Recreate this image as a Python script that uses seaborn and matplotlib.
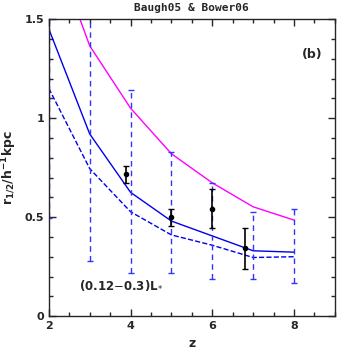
import numpy as np
import pandas as pd
import matplotlib
matplotlib.use("Agg")
import matplotlib.pyplot as plt
from matplotlib.ticker import MultipleLocator
import seaborn as sns

# === 資料 ===
z = [2, 3, 4, 5, 6, 7, 8]
r_solid = [1.45, 0.92, 0.625, 0.48, 0.405, 0.33, 0.323]
r_dashed = [1.15, 0.745, 0.527, 0.41, 0.358, 0.296, 0.30]
r_magenta = [1.93, 1.365, 1.05, 0.82, 0.673, 0.552, 0.485]
err_lo = [0.495, 0.278, 0.216, 0.217, 0.187, 0.187, 0.168]
err_hi = [2.0, 1.7, 1.14, 0.83, 0.673, 0.527, 0.54]

obs_z = [3.9, 5.0, 6.0, 6.8]
obs_r = [0.716, 0.50, 0.54, 0.345]
obs_lo = [0.67, 0.456, 0.446, 0.24]
obs_hi = [0.759, 0.54, 0.64, 0.446]

df = pd.DataFrame({"z": z, "solid": r_solid, "dashed": r_dashed, "magenta": r_magenta})

sns.set_style("ticks")
plt.rcParams["font.family"] = ["DejaVu Sans"]

fig = plt.figure(figsize=(3.54, 3.54), dpi=100)
ax = fig.add_axes([0.138, 0.107, 0.808, 0.839])

# === 線 ===
sns.lineplot(data=df, x="z", y="magenta", color="#ff00ff", lw=1.0, ax=ax)
sns.lineplot(data=df, x="z", y="solid", color="#0000ee", lw=1.0, ax=ax)
sns.lineplot(data=df, x="z", y="dashed", color="#0000ee", lw=1.0, ls="--", ax=ax)

# === 模型誤差 (虛線) ===
mid = np.array(r_solid)
eb = ax.errorbar(z, mid, yerr=[mid - np.array(err_lo), np.array(err_hi) - mid],
                 fmt="none", ecolor="#3333ff", elinewidth=1.0, capsize=2, capthick=1.0)
eb[2][0].set_linestyle((0, (4, 3)))

# === 觀測點 ===
o = np.array(obs_r)
ax.errorbar(obs_z, o, yerr=[o - np.array(obs_lo), np.array(obs_hi) - o],
            fmt="o", color="black", ms=3, elinewidth=1.2, capsize=2.5, capthick=1.0)

ax.set_xlim(2, 9)
ax.set_ylim(0, 1.5)
ax.set_xticks([2, 4, 6, 8])
ax.set_xticklabels(["2", "4", "6", "8"])
ax.set_yticks([0, 0.5, 1, 1.5])
ax.set_yticklabels(["0", "0.5", "1", "1.5"])
ax.xaxis.set_minor_locator(MultipleLocator(0.5))
ax.yaxis.set_minor_locator(MultipleLocator(0.1))
ax.tick_params(which="both", direction="in", top=True, right=True, labelsize=8)
ax.tick_params(which="major", length=5, width=1)
ax.tick_params(which="minor", length=3, width=1)
for lab in ax.get_xticklabels() + ax.get_yticklabels():
    lab.set_fontweight("bold")
for s in ax.spines.values():
    s.set_linewidth(1.0)

ax.set_xlabel("z", fontsize=9, fontweight="bold")
ax.set_ylabel(r"$\mathbf{r_{1/2}/h^{-1}kpc}$", fontsize=9)
ax.set_title("Baugh05 & Bower06", fontsize=8, fontweight="bold", family="DejaVu Sans Mono", pad=6)
ax.text(8.2, 1.32, "(b)", fontsize=9, fontweight="bold", ha="left", va="center")
ax.text(2.75, 0.155, r"(0.12$-$0.3)L$_{*}$", fontsize=8.5, fontweight="bold", ha="left", va="center")

fig.savefig("out.png", dpi=100)
